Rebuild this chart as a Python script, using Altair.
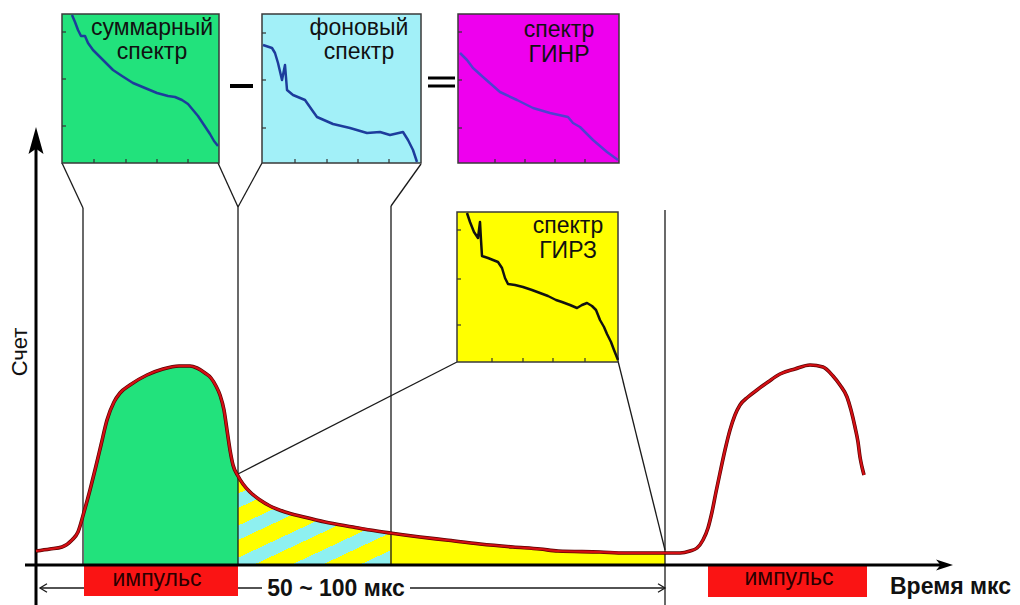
import altair as alt
import pandas as pd

# ---------------- data (units = positions) ----------------
# main count curve: time (x) vs count (y, screen rows; larger = lower)
curve_x = [36, 50, 62, 72, 78, 84, 90, 95, 101, 107, 114, 120, 130, 147, 163, 179, 190, 197, 205, 211,
           216, 220, 224, 227, 230, 233, 238, 243, 250, 260, 270, 285, 304, 325, 353, 370, 390, 420,
           446, 480, 513, 540, 558, 600, 625, 665, 680, 690, 697, 703, 708, 712, 716, 720, 725, 730,
           735, 740, 748, 757, 768, 780, 795, 810, 823, 833, 840, 847, 851, 855, 858, 860, 862, 864]
curve_y = [551, 549, 547, 540, 532, 512, 490, 470, 445, 420, 402, 393, 385, 375, 369, 366, 366, 368, 373, 378,
           386, 395, 410, 430, 450, 465, 476, 484, 492, 500, 506, 512, 517, 522, 527, 530, 533, 537,
           540, 544, 547, 549, 551, 552, 553, 553, 553, 551, 548, 540, 528, 512, 492, 473, 450, 430,
           415, 405, 397, 390, 382, 374, 369, 365, 367, 376, 385, 397, 410, 427, 442, 457, 467, 475]
axis_base = 565
window_edges = [84, 238, 390, 665]   # pulse start, pulse end, background-gate end, cycle end

# inset spectra
sum_x = [72, 75, 78, 81, 85, 88, 93, 100, 107, 113, 122, 133, 145, 157, 168, 175, 182, 188, 193, 198, 202, 206, 210, 214, 218]
sum_y = [15, 22, 30, 36, 36, 43, 50, 57, 64, 70, 76, 83, 88, 93, 96, 97, 100, 104, 110, 116, 122, 128, 134, 141, 146]
bg_x = [263, 272, 275, 278, 282, 285, 287, 293, 305, 312, 317, 333, 350, 367, 380, 390, 403, 408, 413, 417]
bg_y = [45, 48, 53, 63, 80, 65, 90, 95, 100, 110, 117, 124, 128, 133, 132, 135, 132, 140, 150, 162]
ginr_x = [460, 467, 473, 483, 500, 517, 533, 550, 568, 573, 580, 593, 607, 618]
ginr_y = [53, 60, 68, 77, 92, 100, 108, 113, 117, 123, 127, 140, 152, 160]
girz_x = [467, 470, 474, 478, 480, 481, 482, 488, 493, 498, 502, 505, 508, 515, 523, 532, 540, 548, 556,
          562, 570, 577, 582, 587, 592, 596, 600, 604, 607, 611, 614, 618]
girz_y = [213, 222, 232, 238, 222, 240, 256, 258, 260, 262, 268, 278, 284, 285, 287, 290, 293, 296, 300,
          302, 305, 308, 305, 303, 306, 310, 320, 327, 334, 342, 350, 360]

# inset frames
box_names = ["sum", "bg", "ginr", "girz"]
box_x1 = [62, 262, 458, 457]
box_x2 = [219, 421, 619, 618]
box_y1 = [14, 14, 14, 212]
box_y2 = [163, 163, 163, 362]
box_fill = ["#22e27c", "#a2f0f8", "#ee00ee", "#ffff00"]
box_line = ["#1d3c9c", "#1d3c9c", "#5040d0", "#111111"]
box_left_ticks = [[32, 79, 126], [33, 80, 128], [32, 80, 128], [230, 279, 325]]
box_bottom_ticks = [[94, 126, 157, 188], [295, 327, 358, 389], [495, 525, 555, 585], [492, 523, 553, 585]]

# inset captions (two lines each)
caption_lines = [["суммарный", "спектр"], ["фоновый", "спектр"], ["спектр", "ГИНР"], ["спектр", "ГИРЗ"]]
caption_x = [152, 359, 559, 568]
caption_y = [35, 35, 37, 233]

# pulses
pulse_x1 = [84, 708]
pulse_x2 = [238, 867]
pulse_y1 = [566, 566]
pulse_y2 = [596, 597]
pulse_text = ["импульс", "импульс"]
pulse_tx = [157, 789]
pulse_ty = [586, 585]

# connector / guide lines (thin)
thin_x1 = [62, 83, 218, 262, 238, 421, 391, 665, 457, 618, 40, 410]
thin_y1 = [163, 208, 163, 163, 207, 164, 206, 210, 362, 361, 588, 588]
thin_x2 = [83, 83, 238, 238, 238, 391, 391, 665, 238, 665, 262, 665]
thin_y2 = [208, 565, 207, 207, 565, 206, 565, 605, 474, 550, 588, 588]

# axes and operator signs (thick)
thick_x1 = [36, 25, 230, 428, 428]
thick_y1 = [140, 565, 86, 78, 86]
thick_x2 = [36, 944, 253, 455, 455]
thick_y2 = [605, 565, 86, 78, 86]
thick_w = [3, 3, 4, 3, 3]

# ---------------- chart ----------------
XS = alt.Scale(domain=[8, 1012], nice=False, zero=False)
YS = alt.Scale(domain=[8, 597], reverse=True, nice=False, zero=False)
FONT = "Liberation Sans"


def X(f="x"):
    return alt.X(f"{f}:Q", scale=XS, axis=None)


def Y(f="y"):
    return alt.Y(f"{f}:Q", scale=YS, axis=None)


main = pd.DataFrame({"x": curve_x, "y": curve_y, "base": axis_base, "i": range(len(curve_x))})
e0, e1, e2, e3 = window_edges
green_df = main[(main.x >= e0) & (main.x <= e1)]
hatch_df = main[(main.x >= e1) & (main.x <= e2)]
yel_df = main[(main.x >= e2) & (main.x <= e3)]

area_enc = dict(x=X(), y=Y(), y2=alt.Y2("base:Q"))
green_area = alt.Chart(green_df).mark_area(color="#22e27c", interpolate="monotone").encode(**area_enc)
yellow_area = alt.Chart(yel_df).mark_area(color="#ffff00", interpolate="monotone").encode(**area_enc)

stops = []
n_cycles = 5
for k in range(n_cycles):
    a = k / n_cycles
    b = (k + 0.55) / n_cycles
    c = (k + 1) / n_cycles
    stops += [alt.GradientStop(color="#ffff00", offset=a), alt.GradientStop(color="#ffff00", offset=b),
              alt.GradientStop(color="#8ef0f0", offset=b), alt.GradientStop(color="#8ef0f0", offset=c)]
hatch = alt.LinearGradient(gradient="linear", stops=stops, x1=0, y1=0, x2=0.878, y2=1.098)
hatch_area = alt.Chart(hatch_df).mark_area(color=hatch, interpolate="monotone").encode(**area_enc)

# thin lines
thin_df = pd.DataFrame({"x": thin_x1, "y": thin_y1, "x2": thin_x2, "y2": thin_y2})
thin = alt.Chart(thin_df).mark_rule(color="#1a1a1a", strokeWidth=1.3).encode(
    x=X(), y=Y(), x2=alt.X2("x2:Q"), y2=alt.Y2("y2:Q"))

# boxes
box_df = pd.DataFrame({"box": box_names, "x": box_x1, "x2": box_x2, "y": box_y1, "y2": box_y2, "fill": box_fill})
boxes = alt.Chart(box_df).mark_rect(stroke="#3a3a3a", strokeWidth=1.5).encode(
    x=X(), x2=alt.X2("x2:Q"), y=Y(), y2=alt.Y2("y2:Q"), color=alt.Color("fill:N", scale=None))

tick_rows = []
for i in range(len(box_names)):
    for t in box_left_ticks[i]:
        tick_rows.append({"x": box_x1[i], "x2": box_x1[i] + 4, "y": t, "y2": t})
    for t in box_bottom_ticks[i]:
        tick_rows.append({"x": t, "x2": t, "y": box_y2[i], "y2": box_y2[i] - 4})
ticks = alt.Chart(pd.DataFrame(tick_rows)).mark_rule(color="#333333", strokeWidth=1.2).encode(
    x=X(), x2=alt.X2("x2:Q"), y=Y(), y2=alt.Y2("y2:Q"))

spec_rows = []
for name, xs, ys, col in [("sum", sum_x, sum_y, box_line[0]), ("bg", bg_x, bg_y, box_line[1]),
                          ("ginr", ginr_x, ginr_y, box_line[2]), ("girz", girz_x, girz_y, box_line[3])]:
    for j, (a, b) in enumerate(zip(xs, ys)):
        spec_rows.append({"box": name, "x": a, "y": b, "i": j, "col": col})
spectra = alt.Chart(pd.DataFrame(spec_rows)).mark_line(strokeWidth=2.5, strokeJoin="round").encode(
    x=X(), y=Y(), detail="box:N", order="i:Q", color=alt.Color("col:N", scale=None))

cap_vals = [{"t": caption_lines[i], "x": caption_x[i], "y": caption_y[i]} for i in range(4)]
captions_a = alt.Chart(alt.Data(values=cap_vals[:2])).mark_text(
    font=FONT, fontSize=23, lineHeight=24, baseline="alphabetic", align="center", color="#111111").encode(
    x=X(), y=Y(), text="t:N")
captions_b = alt.Chart(alt.Data(values=cap_vals[2:])).mark_text(
    font=FONT, fontSize=23, lineHeight=25, baseline="alphabetic", align="center", color="#111111").encode(
    x=X(), y=Y(), text="t:N")

# thick lines
thick_df = pd.DataFrame({"x": thick_x1, "y": thick_y1, "x2": thick_x2, "y2": thick_y2, "w": thick_w})
thick = alt.Chart(thick_df).mark_rule(color="#000000").encode(
    x=X(), y=Y(), x2=alt.X2("x2:Q"), y2=alt.Y2("y2:Q"), strokeWidth=alt.StrokeWidth("w:Q", scale=None))

# arrow heads
y_arrow = alt.Chart(pd.DataFrame({"x": [36], "y": [142]})).mark_point(
    shape="M0,-1L0.5,0.8L0,0.45L-0.5,0.8Z", filled=True, color="#000000", size=900, opacity=1).encode(x=X(), y=Y())
x_arrow = alt.Chart(pd.DataFrame({"x": [943], "y": [565]})).mark_point(
    shape="M1,0L-0.7,-0.55L-0.25,0L-0.7,0.55Z", filled=True, color="#000000", size=400, opacity=1).encode(x=X(), y=Y())
dim_left = alt.Chart(pd.DataFrame({"x": [40], "y": [588]})).mark_point(
    shape="M1,-0.6L0,0L1,0.6", filled=False, color="#1a1a1a", strokeWidth=1.3, size=196, opacity=1).encode(x=X(), y=Y())
dim_right = alt.Chart(pd.DataFrame({"x": [665], "y": [588]})).mark_point(
    shape="M-1,-0.6L0,0L-1,0.6", filled=False, color="#1a1a1a", strokeWidth=1.3, size=196, opacity=1).encode(x=X(), y=Y())

# main curve
curve_shadow = alt.Chart(main).mark_line(color="#5a0000", strokeWidth=3.6, interpolate="monotone").encode(
    x=X(), y=Y(), order="i:Q")
curve = alt.Chart(main).mark_line(color="#d40f14", strokeWidth=2.2, interpolate="monotone").encode(
    x=X(), y=Y(), order="i:Q")

# pulses
pulse_df = pd.DataFrame({"x": pulse_x1, "x2": pulse_x2, "y": pulse_y1, "y2": pulse_y2})
pulses = alt.Chart(pulse_df).mark_rect(color="#fa1414").encode(
    x=X(), x2=alt.X2("x2:Q"), y=Y(), y2=alt.Y2("y2:Q"))
pulse_lbl = alt.Chart(pd.DataFrame({"t": pulse_text, "x": pulse_tx, "y": pulse_ty})).mark_text(
    font=FONT, fontSize=23, baseline="alphabetic", align="center", color="#2a0000").encode(x=X(), y=Y(), text="t:N")

# axis titles / dimension label
y_title = alt.Chart(pd.DataFrame({"t": ["Счет"], "x": [20], "y": [352]})).mark_text(
    font=FONT, fontSize=22, angle=270, baseline="middle", align="center", color="#111111").encode(x=X(), y=Y(), text="t:N")
x_title = alt.Chart(pd.DataFrame({"t": ["Время мкс"], "x": [1011], "y": [594]})).mark_text(
    font=FONT, fontSize=23, fontWeight="bold", baseline="alphabetic", align="right", color="#111111").encode(x=X(), y=Y(), text="t:N")
dim_lbl = alt.Chart(pd.DataFrame({"t": ["50 ~ 100 мкс"], "x": [336], "y": [596]})).mark_text(
    font=FONT, fontSize=23, fontWeight="bold", baseline="alphabetic", align="center", color="#111111").encode(x=X(), y=Y(), text="t:N")

chart = alt.layer(
    green_area, hatch_area, yellow_area, thin, boxes, ticks, spectra, captions_a, captions_b,
    pulses, pulse_lbl, thick, y_arrow, x_arrow, dim_left, dim_right,
    curve_shadow, curve, y_title, x_title, dim_lbl,
).properties(width=1004, height=589, padding=0, background="white").configure_view(stroke=None)

chart.save("out.html", embed_options={"renderer": "svg", "actions": False})
